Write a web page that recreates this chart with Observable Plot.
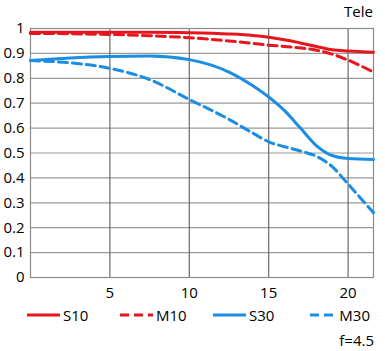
<!DOCTYPE html>
<html>
<head>
<meta charset="utf-8">
<script src="https://cdn.jsdelivr.net/npm/d3@7"></script>
<script src="https://cdn.jsdelivr.net/npm/@observablehq/plot@0.6"></script>
<style>
  body { margin: 0; font-family: "Open Sans", sans-serif; background: #fff; color: #000; }
  #wrap { width: 385px; }
  #chart svg { display: block; }
  .title { height: 17px; padding-top: 3px; line-height: 17px; text-align: right; padding-right: 12px; font-size: 15px; }
  .legend { display: flex; height: 20px; line-height: 20px; font-size: 15px; padding-left: 27px; }
  .item { display: flex; align-items: center; }
  .item svg { margin-right: 3px; }
  .foot { margin-top: 5px; height: 20px; line-height: 20px; text-align: right; padding-right: 11px; font-size: 15px; }
</style>
</head>
<body>
<div id="wrap">
  <div class="title">Tele</div>
  <div id="chart"></div>
  <div class="legend" id="legend"></div>
  <div class="foot">f=4.5</div>
</div>
<script>
const xs  = [0, 2.5, 5, 7.5, 10, 12.5, 14, 15, 16, 17, 18, 19, 20, 21.6];
const s10 = [0.985, 0.985, 0.985, 0.985, 0.983, 0.978, 0.972, 0.965, 0.955, 0.942, 0.928, 0.915, 0.910, 0.905];
const m10 = [0.980, 0.979, 0.976, 0.971, 0.963, 0.950, 0.940, 0.933, 0.928, 0.922, 0.913, 0.897, 0.873, 0.825];
const s30 = [0.872, 0.882, 0.888, 0.890, 0.875, 0.825, 0.770, 0.725, 0.670, 0.600, 0.530, 0.490, 0.478, 0.474];
const m30 = [0.871, 0.862, 0.840, 0.795, 0.715, 0.635, 0.580, 0.545, 0.525, 0.508, 0.487, 0.445, 0.375, 0.260];
const seriesNames = ["S10", "M10", "S30", "M30"];
const xTicks = [5, 10, 15, 20];
const yTicks = [0, 0.1, 0.2, 0.3, 0.4, 0.5, 0.6, 0.7, 0.8, 0.9, 1];
const yTickLabels = ["0", "0.1", "0.2", "0.3", "0.4", "0.5", "0.6", "0.7", "0.8", "0.9", "1"];

const RED = "#e5161c", BLUE = "#1a8ee3";
const styles = {
  S10: {stroke: RED, dash: null},
  M10: {stroke: RED, dash: "9,5"},
  S30: {stroke: BLUE, dash: null},
  M30: {stroke: BLUE, dash: "9,5"}
};
const values = {S10: s10, M10: m10, S30: s30, M30: m30};
const rows = name => xs.map((x, i) => ({x, v: values[name][i]}));

const chart = Plot.plot({
  width: 385, height: 285,
  marginTop: 8, marginBottom: 28, marginLeft: 30, marginRight: 12,
  style: {fontFamily: "Open Sans", fontSize: "15px", color: "#000", background: "#fff", overflow: "visible"},
  x: {domain: [0, 21.6], label: null},
  y: {domain: [0, 1], label: null},
  marks: [
    Plot.gridY(yTicks, {stroke: "#9a9a9a", strokeOpacity: 1, strokeWidth: 1.2}),
    Plot.gridX(xTicks, {stroke: "#6a6a6a", strokeOpacity: 1, strokeWidth: 1.2}),
    Plot.frame({stroke: "#8a8a8a", strokeWidth: 1.2}),
    ...seriesNames.map(n => Plot.line(rows(n), {
      x: "x", y: "v", stroke: styles[n].stroke, strokeWidth: 3,
      strokeDasharray: styles[n].dash, curve: "monotone-x"
    })),
    Plot.axisY(yTicks, {label: null, tickSize: 0, tickPadding: 6, tickFormat: d => yTickLabels[yTicks.indexOf(d)]}),
    Plot.axisX(xTicks, {label: null, tickSize: 0, tickPadding: 10})
  ]
});
document.getElementById("chart").appendChild(chart);

const widths = [93, 93, 97, 60];
const legend = document.getElementById("legend");
seriesNames.forEach((n, i) => {
  const item = document.createElement("div");
  item.className = "item";
  item.style.width = widths[i] + "px";
  item.innerHTML = `<svg width="33" height="6"><line x1="0" x2="33" y1="3" y2="3" stroke="${styles[n].stroke}" stroke-width="3" ${styles[n].dash ? `stroke-dasharray="${styles[n].dash}"` : ""}/></svg><span>${n}</span>`;
  legend.appendChild(item);
});
</script>
</body>
</html>
